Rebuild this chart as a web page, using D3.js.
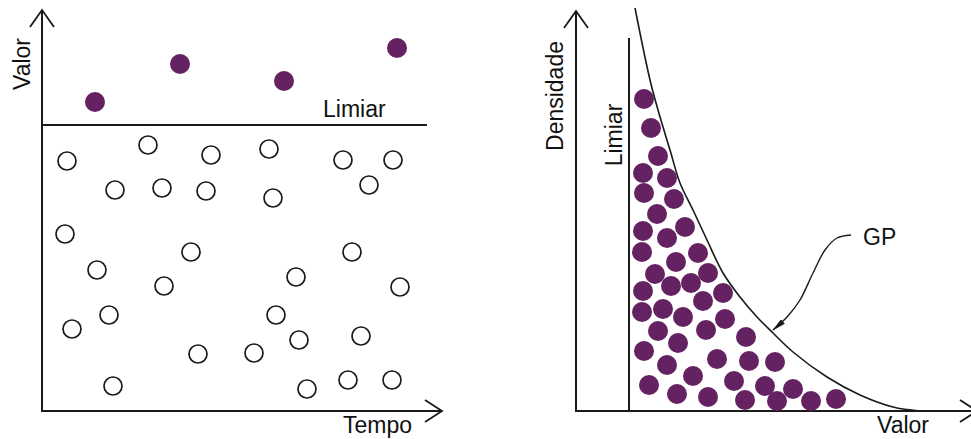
<!DOCTYPE html>
<html lang="pt">
<head>
    <meta charset="UTF-8">
    <title>Limiar e GP</title>
    <script src="https://d3js.org/d3.v7.min.js"></script>
    <style>
        body { margin: 0; background: #fff; }
        text { font-family: "Liberation Sans", Arial, sans-serif; font-size: 23px; fill: #111; }
    </style>
</head>
<body>
<svg id="chart" width="971" height="439"></svg>
<script>

    // ---- left panel: values over time (units: tempo 0..40, valor 0..40)
    const belowTime  = [2.5, 10.6, 16.9, 22.7, 30.1, 35.1, 7.3, 12.0, 16.4, 23.1, 32.7,
                        2.3, 14.9, 31.0, 5.5, 25.4, 12.2, 35.8, 6.7, 23.4, 3.0, 25.7, 31.9,
                        15.6, 21.2, 7.1, 26.5, 30.6, 35.0];
    const belowValue = [25.0, 26.6, 25.6, 26.2, 25.1, 25.1, 22.1, 22.3, 22.0, 21.3, 22.6,
                        17.7, 15.9, 15.9, 14.1, 13.4, 12.5, 12.4, 9.6, 9.6, 8.2, 7.1, 7.5,
                        5.7, 5.8, 2.5, 2.2, 3.1, 3.1];
    const aboveTime  = [5.3, 13.8, 24.2, 35.5];
    const aboveValue = [30.9, 34.7, 33.0, 36.3];
    const thresholdLeft = 28.6;

    // ---- right panel: exceedances and GP density (units: valor 0..40, densidade 0..40)
    const excessValue = [6.8, 7.5, 8.2, 6.7, 9.1, 6.8, 9.8, 8.1, 10.9, 6.7, 9.1, 6.6, 12.2,
                         10.0, 13.2, 7.9, 6.7, 9.5, 11.5, 14.7, 12.7, 6.6, 8.7, 10.7, 14.9,
                         8.2, 13.0, 17.0, 10.2, 6.8, 14.1, 17.3, 19.9, 9.1, 11.7, 15.8, 18.9,
                         21.7, 7.3, 10.1, 13.2, 16.9, 20.1, 23.5, 26.0];
    const excessDensity = [31.2, 28.3, 25.5, 23.8, 23.3, 21.8, 21.2, 19.7, 18.4, 18.0, 17.3,
                           15.9, 15.8, 14.9, 13.8, 13.7, 12.0, 12.5, 12.8, 11.8, 11.0, 9.9,
                           10.2, 9.4, 9.2, 8.0, 8.1, 7.4, 6.8, 6.0, 5.2, 5.0, 4.9, 4.6, 3.5,
                           3.0, 2.5, 2.2, 2.6, 1.7, 1.4, 1.1, 1.0, 1.0, 1.2];
    const gpValue   = [5.9, 7.4, 8.2, 9.4, 10.4, 11.7, 13.1, 14.7, 16.4, 18.1, 19.7, 21.7, 25.1, 28.4, 31.7, 34.4];
    const gpDensity = [40.3, 33.1, 30.1, 26.1, 22.8, 20.1, 17.1, 13.8, 11.4, 9.4, 7.8, 5.9, 3.4, 1.6, 0.4, 0.0];
    const thresholdRight = 5.3;

    // callout "GP" -> curve
    const calloutValue   = [27.5, 26.1, 24.9, 23.7, 22.4, 21.1, 19.7];
    const calloutDensity = [17.6, 17.3, 16.1, 13.8, 11.1, 9.4, 8.1];

    const purple = "#652262";
    const ink = "#1a1a1a";

    const svg = d3.select("#chart");

    svg.append("defs").append("marker")
        .attr("id", "head")
        .attr("viewBox", "0 0 14 6")
        .attr("refX", 13)
        .attr("refY", 3)
        .attr("markerWidth", 14)
        .attr("markerHeight", 6)
        .attr("markerUnits", "userSpaceOnUse")
        .attr("orient", "auto")
        .append("path")
        .attr("d", "M0,0 L14,3 L0,6 Z")
        .attr("fill", ink);

    // open chevron at the end of an axis
    function chevron(g, x, y, dir) {
        const p = dir === "up"
            ? [[x - 12, y + 17], [x, y], [x + 12, y + 17]]
            : [[x - 17, y - 11], [x, y], [x - 17, y + 11]];
        g.append("path")
            .attr("d", d3.line()(p))
            .attr("fill", "none")
            .attr("stroke", ink)
            .attr("stroke-width", 1.8);
    }

    // ================= left panel =================
    const xL = d3.scaleLinear().domain([0, 40]).range([42, 442]);
    const yL = d3.scaleLinear().domain([0, 40]).range([411, 11]);
    const left = svg.append("g");

    left.append("line")
        .attr("x1", xL(0)).attr("y1", yL(0)).attr("x2", xL(0)).attr("y2", yL(40) - 1)
        .attr("stroke", ink).attr("stroke-width", 2);
    left.append("line")
        .attr("x1", xL(0) - 1).attr("y1", yL(0)).attr("x2", xL(40)).attr("y2", yL(0))
        .attr("stroke", ink).attr("stroke-width", 2);
    chevron(left, xL(0), yL(40) - 1, "up");
    chevron(left, xL(40), yL(0), "right");

    left.append("line")
        .attr("x1", xL(0)).attr("x2", xL(38.5))
        .attr("y1", yL(thresholdLeft)).attr("y2", yL(thresholdLeft))
        .attr("stroke", ink).attr("stroke-width", 2);

    left.selectAll(".below")
        .data(belowTime)
        .join("circle")
        .attr("cx", d => xL(d))
        .attr("cy", (d, i) => yL(belowValue[i]))
        .attr("r", 9)
        .attr("fill", "#fff")
        .attr("stroke", ink)
        .attr("stroke-width", 1.7);

    left.selectAll(".above")
        .data(aboveTime)
        .join("circle")
        .attr("cx", d => xL(d))
        .attr("cy", (d, i) => yL(aboveValue[i]))
        .attr("r", 10)
        .attr("fill", purple);

    left.append("text")
        .attr("transform", `translate(30,${yL(34.7)}) rotate(-90)`)
        .attr("text-anchor", "middle")
        .text("Valor");
    left.append("text")
        .attr("x", 323).attr("y", yL(thresholdLeft) - 8)
        .text("Limiar");
    left.append("text")
        .attr("x", 343).attr("y", 433)
        .text("Tempo");

    // ================= right panel =================
    const xR = d3.scaleLinear().domain([0, 40]).range([576, 976]);
    const yR = d3.scaleLinear().domain([0, 40]).range([411, 11]);
    const right = svg.append("g");

    right.append("line")
        .attr("x1", xR(0)).attr("y1", yR(0)).attr("x2", xR(0)).attr("y2", yR(40))
        .attr("stroke", ink).attr("stroke-width", 2);
    right.append("line")
        .attr("x1", xR(0) - 1).attr("y1", yR(0)).attr("x2", xR(40) + 1).attr("y2", yR(0))
        .attr("stroke", ink).attr("stroke-width", 2);
    chevron(right, xR(0), yR(40), "up");
    chevron(right, xR(40) + 1, yR(0), "right");

    right.append("line")
        .attr("x1", xR(thresholdRight)).attr("x2", xR(thresholdRight))
        .attr("y1", yR(0)).attr("y2", yR(37.3))
        .attr("stroke", ink).attr("stroke-width", 2);

    right.selectAll(".excess")
        .data(excessValue)
        .join("circle")
        .attr("cx", d => xR(d))
        .attr("cy", (d, i) => yR(excessDensity[i]))
        .attr("r", 10)
        .attr("fill", purple);

    const gpLine = d3.line()
        .x(d => xR(d[0]))
        .y(d => yR(d[1]))
        .curve(d3.curveCatmullRom);

    right.append("path")
        .attr("d", gpLine(d3.zip(gpValue, gpDensity)))
        .attr("fill", "none")
        .attr("stroke", ink)
        .attr("stroke-width", 1.6);

    right.append("path")
        .attr("d", gpLine(d3.zip(calloutValue, calloutDensity)))
        .attr("fill", "none")
        .attr("stroke", ink)
        .attr("stroke-width", 1.4)
        .attr("marker-end", "url(#head)");

    right.append("text")
        .attr("x", xR(28.7)).attr("y", yR(16.6))
        .text("GP");
    right.append("text")
        .attr("transform", `translate(563,${yR(31.5)}) rotate(-90)`)
        .attr("text-anchor", "middle")
        .text("Densidade");
    right.append("text")
        .attr("transform", `translate(622,${yR(27.6)}) rotate(-90)`)
        .attr("text-anchor", "middle")
        .text("Limiar");
    right.append("text")
        .attr("x", 877).attr("y", 433)
        .text("Valor");

</script>
</body>
</html>
